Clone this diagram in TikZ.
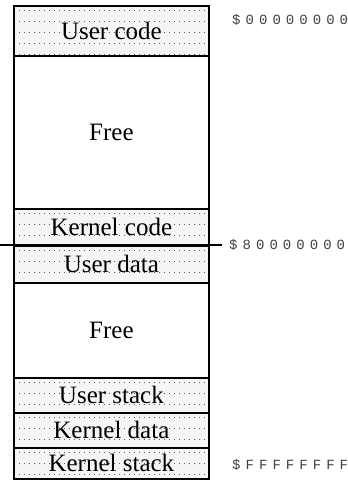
\documentclass[tikz,border=0pt]{standalone}
\usepackage{fontspec}
\setmainfont{Liberation Serif}
\newfontfamily\addrfont[LetterSpace=36]{Liberation Mono}
\begin{document}
\begin{tikzpicture}[x=1pt,y=-1pt,
  cell/.style={draw=black, line width=1.8pt, minimum width=195pt, anchor=north west, inner sep=0pt, font=\fontsize{25}{28}\selectfont},
  shaded/.style={cell, fill=gray!8, path picture={\foreach \k in {0,...,6}{\draw[black!65, line width=1pt, dash pattern=on 1pt off 4pt] ([yshift=-(5+11*\k)*1pt]path picture bounding box.north west) -- ([yshift=-(5+11*\k)*1pt]path picture bounding box.north east);}}},
  addr/.style={anchor=west, inner sep=0pt, text=black!75, font=\addrfont\fontsize{14}{14}\selectfont},
  sep/.style={draw=black, line width=1.8pt}
]
\useasboundingbox (0,0) rectangle (348,483);
\node[shaded, minimum height=50pt]  (uc) at (13,5)   {User code};
\node[cell,   minimum height=153pt] (f1) at (13,55)  {Free};
\node[shaded, minimum height=37pt]  (kc) at (13,208) {Kernel code};
\node[shaded, minimum height=37pt]  (ud) at (13,245) {User data};
\node[cell,   minimum height=95pt]  (f2) at (13,282) {Free};
\node[shaded, minimum height=35pt]  (us) at (13,377) {User stack};
\node[shaded, minimum height=35pt]  (kd) at (13,412) {Kernel data};
\node[shaded, minimum height=31pt]  (ks) at (13,447) {Kernel stack};
\coordinate (ml) at (0,245);
\coordinate (mr) at (222,245);
\draw[sep] (ml) -- (mr);
\node[addr] (a0) at (232,20)  {\$00000000};
\node[addr] (a8) at (229,245) {\$80000000};
\node[addr] (af) at (232,465) {\$FFFFFFFF};
\end{tikzpicture}
\end{document}
